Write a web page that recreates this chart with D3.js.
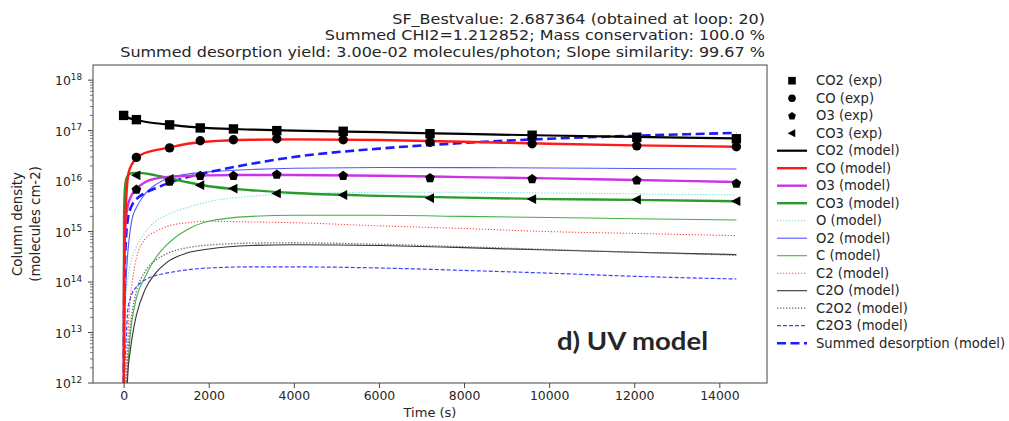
<!DOCTYPE html>
<html><head><meta charset="utf-8">
<script src="https://cdn.jsdelivr.net/npm/d3@7"></script>
<style>
body{margin:0;background:#fff}
svg{display:block}
text{font-family:"DejaVu Sans",sans-serif;fill:#262626}
</style>
</head><body>
<svg id="c" width="1009" height="421"></svg>
<script>
// ---------- data ----------
const titleLines = [
  "SF_Bestvalue: 2.687364 (obtained at loop: 20)",
  "Summed CHI2=1.212852; Mass conservation: 100.0 %",
  "Summed desorption yield: 3.00e-02 molecules/photon; Slope similarity: 99.67 %"
];
const xTicks = [0, 2000, 4000, 6000, 8000, 10000, 12000, 14000];
const yDecades = [12, 13, 14, 15, 16, 17, 18];
const xLabel = "Time (s)";
const yLabel = ["Column density", "(molecules cm-2)"];
const panelLabel = "d) UV model";

const expTimes = [0, 300, 1080, 1800, 2580, 3600, 5160, 7200, 9600, 12060, 14400];
const co2Exp = [2.0e17, 1.65e17, 1.3e17, 1.13e17, 1.08e17, 1.0e17, 9.7e16, 8.7e16, 8.1e16, 7.4e16, 6.9e16];
const coExp  = [null, 2.95e16, 4.55e16, 6.3e16, 6.6e16, 6.9e16, 6.6e16, 5.9e16, 5.5e16, 5.0e16, 4.8e16];
const o3Exp  = [null, 6.9e15, 1.0e16, 1.3e16, 1.3e16, 1.37e16, 1.3e16, 1.17e16, 1.12e16, 1.06e16, 9.1e15];
const co3Exp = [null, 1.3e16, 1.1e16, 8.3e15, 7.1e15, 5.7e15, 5.3e15, 4.6e15, 4.4e15, 4.3e15, 4.0e15];

const modelTimes = [0, 10, 25, 50, 100, 150, 200, 300, 500, 750, 1000, 1500, 2000, 3000, 4000, 6000, 8000, 10000, 12000, 14400];
const co2Model  = [2.0e17, 1.98e17, 1.95e17, 1.9e17, 1.82e17, 1.75e17, 1.7e17, 1.62e17, 1.5e17, 1.4e17, 1.33e17, 1.2e17, 1.12e17, 1.05e17, 1.0e17, 9.3e16, 8.6e16, 8.0e16, 7.5e16, 7.0e16];
const coModel   = [1e9, 1.5e14, 7e14, 3e15, 1.2e16, 1.8e16, 2.2e16, 2.9e16, 3.6e16, 4.1e16, 4.5e16, 5.5e16, 6.1e16, 6.6e16, 6.7e16, 6.5e16, 6.0e16, 5.5e16, 5.1e16, 4.8e16];
const o3Model   = [1e9, 1.5e14, 7e14, 1.6e15, 3.3e15, 4.5e15, 5.5e15, 7e15, 9.5e15, 1.12e16, 1.2e16, 1.27e16, 1.3e16, 1.32e16, 1.32e16, 1.28e16, 1.2e16, 1.13e16, 1.05e16, 9.6e15];
const co3Model  = [1e9, 2e15, 6e15, 1.0e16, 1.3e16, 1.4e16, 1.44e16, 1.47e16, 1.42e16, 1.3e16, 1.18e16, 9.5e15, 7.9e15, 6.6e15, 5.8e15, 5.1e15, 4.7e15, 4.4e15, 4.25e15, 4.0e15];
const oModel    = [1e9, 1e12, 1e13, 4e13, 1.2e14, 2.1e14, 3e14, 5e14, 9.5e14, 1.6e15, 2.1e15, 3.0e15, 3.9e15, 5.0e15, 5.6e15, 6.0e15, 6.0e15, 5.8e15, 5.6e15, 5.3e15];
const o2Model   = [1e9, 3e12, 2e13, 8e13, 4e14, 1.0e15, 1.8e15, 3e15, 5.5e15, 8.5e15, 1.1e16, 1.38e16, 1.52e16, 1.7e16, 1.8e16, 1.86e16, 1.85e16, 1.82e16, 1.78e16, 1.74e16];
const cModel    = [1e9, 1e10, 6e10, 2.5e11, 2e12, 8e12, 1.8e13, 4.8e13, 1.25e14, 3.0e14, 5.3e14, 1.1e15, 1.6e15, 2.0e15, 2.1e15, 2.1e15, 2.0e15, 1.9e15, 1.8e15, 1.7e15];
const c2Model   = [1e9, 1e10, 1e11, 8e11, 8e12, 4.5e13, 1.0e14, 3.0e14, 7e14, 1.0e15, 1.25e15, 1.5e15, 1.6e15, 1.55e15, 1.5e15, 1.3e15, 1.15e15, 1.0e15, 9.2e14, 8.3e14];
const c2oModel  = [1e9, 1e9, 1e10, 1e11, 1.6e12, 4e12, 8e12, 2.2e13, 7e13, 1.5e14, 2.4e14, 3.8e14, 4.5e14, 5.3e14, 5.5e14, 5.3e14, 4.8e14, 4.3e14, 3.9e14, 3.5e14];
const c2o2Model = [1e9, 1e9, 2e10, 3e11, 4e12, 1.2e13, 2.5e13, 6.5e13, 1.6e14, 2.7e14, 3.6e14, 4.8e14, 5.4e14, 5.9e14, 6.0e14, 5.6e14, 5.0e14, 4.4e14, 3.9e14, 3.4e14];
const c2o3Model = [1e9, 2e11, 2e12, 5e12, 3e13, 4.5e13, 6e13, 8e13, 1.1e14, 1.35e14, 1.5e14, 1.75e14, 1.9e14, 2.0e14, 2.0e14, 1.9e14, 1.7e14, 1.5e14, 1.3e14, 1.15e14];
const sumModel  = [1e9, 2e13, 1.5e14, 6e14, 1.8e15, 2.7e15, 3.4e15, 4.4e15, 5.8e15, 7.2e15, 8.8e15, 1.2e16, 1.5e16, 2.2e16, 3.0e16, 4.4e16, 5.7e16, 6.9e16, 7.9e16, 9.0e16];

// ---------- styles (kept separate from data) ----------
const expSeries = [
  {name: "CO2 (exp)", vals: co2Exp, shape: "square"},
  {name: "CO (exp)",  vals: coExp,  shape: "circle"},
  {name: "O3 (exp)",  vals: o3Exp,  shape: "pentagon"},
  {name: "CO3 (exp)", vals: co3Exp, shape: "triangle"}
];
const modelSeries = [
  {name: "CO2 (model)",  vals: co2Model,  color: "#000000", w: 2.2, dash: null},
  {name: "CO (model)",   vals: coModel,   color: "#ff1a1a", w: 2.4, dash: null},
  {name: "O3 (model)",   vals: o3Model,   color: "#cc33e6", w: 2.4, dash: null},
  {name: "CO3 (model)",  vals: co3Model,  color: "#2a9a2a", w: 2.4, dash: null},
  {name: "O (model)",    vals: oModel,    color: "#70e0e0", w: 1.1, dash: "1.3,1.7"},
  {name: "O2 (model)",   vals: o2Model,   color: "#5555ff", w: 1.1, dash: null},
  {name: "C (model)",    vals: cModel,    color: "#44b044", w: 1.1, dash: null},
  {name: "C2 (model)",   vals: c2Model,   color: "#ff5050", w: 1.1, dash: "1.3,1.7"},
  {name: "C2O (model)",  vals: c2oModel,  color: "#333333", w: 1.1, dash: null},
  {name: "C2O2 (model)", vals: c2o2Model, color: "#666666", w: 1.3, dash: "1.3,1.7"},
  {name: "C2O3 (model)", vals: c2o3Model, color: "#4040ff", w: 1.2, dash: "4,2"},
  {name: "Summed desorption (model)", vals: sumModel, color: "#1a1aff", w: 2.6, dash: "9,4.5"}
];

// ---------- layout ----------
const L = 93, R = 767, T = 65, B = 383;
const svg = d3.select("#c");
const x = d3.scaleLinear().domain([-720, 15120]).range([L, R]);
const y = d3.scaleLog().domain([1e12, Math.pow(10, 18.3)]).range([B, T]);

svg.append("defs").append("clipPath").attr("id", "clip")
  .append("rect").attr("x", L).attr("y", T).attr("width", R - L).attr("height", B - T);

// title: measure at the reference's apparent width, draw slightly shorter glyphs
const tt = svg.append("g").selectAll("text").data(titleLines).join("text")
  .attr("x", 765).attr("y", (d, i) => 23.5 + i * 16.8)
  .attr("text-anchor", "end").style("font-size", "16px").text(d => d);
tt.each(function() {
  const w = this.getComputedTextLength();
  d3.select(this).style("font-size", "14px").attr("textLength", w).attr("lengthAdjust", "spacingAndGlyphs");
});

// x axis
const xAxis = d3.axisBottom(x).tickValues(xTicks).tickSize(5).tickPadding(3).tickFormat(d3.format("d"));
const gx = svg.append("g").attr("transform", `translate(0,${B})`).call(xAxis);
gx.select(".domain").remove();
gx.selectAll("line").attr("stroke", "#333").attr("stroke-width", 0.9);
gx.selectAll("text").style("font-size", "12.4px").attr("fill", "#262626").style("font-family", "DejaVu Sans");

svg.append("text").attr("x", (L + R) / 2).attr("y", 417).attr("text-anchor", "middle")
  .style("font-size", "13px").text(xLabel);

// y axis ticks
const gy = svg.append("g");
const minor = [];
for (let k = 12; k < 19; k++) for (let m = 2; m <= 9; m++) {
  const v = m * Math.pow(10, k);
  if (v <= y.domain()[1]) minor.push(v);
}
gy.selectAll("line.minor").data(minor).join("line")
  .attr("x1", L - 3).attr("x2", L).attr("y1", d => y(d)).attr("y2", d => y(d))
  .attr("stroke", "#444").attr("stroke-width", 0.7);
gy.selectAll("line.major").data(yDecades).join("line")
  .attr("x1", L - 5).attr("x2", L).attr("y1", d => y(Math.pow(10, d))).attr("y2", d => y(Math.pow(10, d)))
  .attr("stroke", "#333").attr("stroke-width", 0.9);
const yl = gy.selectAll("text.yl").data(yDecades).join("text")
  .attr("x", 82).attr("y", d => y(Math.pow(10, d)) + 5)
  .attr("text-anchor", "end").style("font-size", "12.4px");
yl.append("tspan").text("10");
yl.append("tspan").attr("dy", -5.5).style("font-size", "8.8px").text(d => String(d));

// y label
yLabel.forEach((t, i) => {
  svg.append("text").attr("transform", `translate(${22 + i * 18},${(T + B) / 2}) rotate(-90)`)
    .attr("text-anchor", "middle").style("font-size", "13.3px").text(t);
});

// lines
const plot = svg.append("g").attr("clip-path", "url(#clip)");
const line = d3.line().x(d => x(d.t)).y(d => y(d.v)).curve(d3.curveMonotoneX);
const drawOrder = [4,5,6,7,8,9,10,11,3,2,1,0];
drawOrder.forEach(i => {
  const s = modelSeries[i];
  const pts = modelTimes.map((t, j) => ({t, v: s.vals[j]}));
  plot.append("path").datum(pts).attr("d", line)
    .attr("fill", "none").attr("stroke", s.color).attr("stroke-width", s.w)
    .attr("stroke-dasharray", s.dash).attr("stroke-linejoin", "round");
});

// marker shapes
function shapePath(shape, r) {
  if (shape === "square") return `M${-r},${-r}H${r}V${r}H${-r}Z`;
  if (shape === "circle") return d3.arc()({innerRadius: 0, outerRadius: r, startAngle: 0, endAngle: 2 * Math.PI});
  if (shape === "pentagon") {
    const p = d3.range(5).map(k => { const a = -Math.PI / 2 + k * 2 * Math.PI / 5; return [r * 1.08 * Math.cos(a), r * 1.08 * Math.sin(a) + r * 0.1]; });
    return "M" + p.map(q => q.join(",")).join("L") + "Z";
  }
  if (shape === "triangle") return `M${-r * 1.15},0L${r * 0.85},${-r * 1.05}L${r * 0.85},${r * 1.05}Z`;
}
expSeries.forEach(s => {
  const pts = expTimes.map((t, j) => ({t, v: s.vals[j]})).filter(d => d.v != null);
  plot.selectAll(null).data(pts).join("path")
    .attr("transform", d => `translate(${x(d.t)},${y(d.v)})`)
    .attr("d", shapePath(s.shape, 4.7)).attr("fill", "#000");
});

// frame
svg.append("rect").attr("x", L).attr("y", T).attr("width", R - L).attr("height", B - T)
  .attr("fill", "none").attr("stroke", "#444").attr("stroke-width", 1);

// panel label
svg.append("text").attr("x", 557).attr("y", 350).style("font-family", "Lato")
  .style("font-weight", "700").style("font-size", "24.5px").attr("fill", "#111")
  .attr("textLength", 151).attr("lengthAdjust", "spacingAndGlyphs").text(panelLabel);

// legend
const lg = svg.append("g");
const ly0 = 80.7, lstep = 17.5;
expSeries.forEach((s, i) => {
  const yy = ly0 + i * lstep;
  lg.append("path").attr("transform", `translate(792,${yy})`).attr("d", shapePath(s.shape, 3.8)).attr("fill", "#000");
  lg.append("text").attr("x", 816).attr("y", yy + 4.7).style("font-size", "13.2px").text(s.name);
});
modelSeries.forEach((s, i) => {
  const yy = ly0 + (i + 4) * lstep;
  lg.append("line").attr("x1", 777).attr("x2", 807).attr("y1", yy).attr("y2", yy)
    .attr("stroke", s.color).attr("stroke-width", s.w).attr("stroke-dasharray", s.dash);
  lg.append("text").attr("x", 816).attr("y", yy + 4.7).style("font-size", "13.2px").text(s.name);
});
</script>
</body></html>
